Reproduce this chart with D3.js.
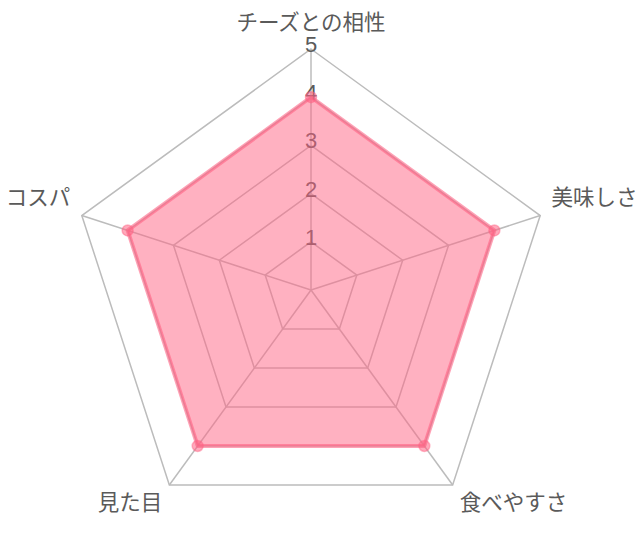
<!DOCTYPE html>
<html>
<head>
<meta charset="utf-8">
<script src="https://cdn.jsdelivr.net/npm/d3@7"></script>
<style>
  html, body { margin: 0; padding: 0; background: #fff; }
  svg { display: block; }
</style>
</head>
<body>
<svg width="640" height="541"></svg>
<script>
const labels = ["チーズとの相性", "美味しさ", "食べやすさ", "見た目", "コスパ"];
const values = [4, 4, 4, 4, 4];
const ticks = [1, 2, 3, 4, 5];

const svg = d3.select("svg");
const cx = 311, cy = 290, radius = 241;

const r = d3.scaleLinear().domain([0, 5]).range([0, radius]);
const angle = d3.scaleLinear().domain([0, labels.length]).range([0, 2 * Math.PI]);

const px = (i, v) => cx + r(v) * Math.sin(angle(i));
const py = (i, v) => cy - r(v) * Math.cos(angle(i));

const g = svg.append("g");

// grid rings
const ring = d3.line().curve(d3.curveLinearClosed);
g.selectAll(".ring")
  .data(ticks)
  .enter().append("path")
  .attr("class", "ring")
  .attr("d", t => ring(labels.map((_, i) => [px(i, t), py(i, t)])))
  .attr("fill", "none")
  .attr("stroke", "#bcbcbc")
  .attr("stroke-width", 1.5);

// spokes
g.selectAll(".spoke")
  .data(labels)
  .enter().append("line")
  .attr("x1", cx).attr("y1", cy)
  .attr("x2", (_, i) => px(i, 5))
  .attr("y2", (_, i) => py(i, 5))
  .attr("stroke", "#bcbcbc")
  .attr("stroke-width", 1.5);

// tick labels
g.selectAll(".tick")
  .data(ticks)
  .enter().append("text")
  .attr("x", cx)
  .attr("y", t => cy - r(t) + 3)
  .attr("text-anchor", "middle")
  .attr("font-family", "Liberation Sans, Arial, sans-serif")
  .attr("font-size", 22)
  .attr("fill", "#5a5a5a")
  .text(t => t);

// dataset
g.append("path")
  .attr("d", ring(values.map((v, i) => [px(i, v), py(i, v)])))
  .attr("fill", "rgba(255, 99, 132, 0.5)")
  .attr("stroke", "rgba(255, 99, 132, 0.6)")
  .attr("stroke-width", 4)
  .attr("stroke-linejoin", "round");

g.selectAll(".pt")
  .data(values)
  .enter().append("circle")
  .attr("cx", (v, i) => px(i, v))
  .attr("cy", (v, i) => py(i, v))
  .attr("r", 5.5)
  .attr("fill", "rgba(255, 99, 132, 0.55)")
  .attr("stroke", "rgba(255, 99, 132, 0.45)")
  .attr("stroke-width", 1.5);

// point labels
const labelR = radius + 12;
g.selectAll(".plabel")
  .data(labels)
  .enter().append("text")
  .attr("x", (_, i) => cx + labelR * Math.sin(angle(i)))
  .attr("y", (_, i) => {
    const c = Math.cos(angle(i));
    const y = cy - labelR * c;
    return c > 0 ? y - 7 : y + 15;
  })
  .attr("text-anchor", (_, i) => {
    const s = Math.sin(angle(i));
    return Math.abs(s) < 0.01 ? "middle" : (s > 0 ? "start" : "end");
  })
  .attr("font-family", "Noto Sans CJK JP, sans-serif")
  .attr("font-size", 21.5)
  .attr("fill", "#5a5a5a")
  .text(d => d);
</script>
</body>
</html>
